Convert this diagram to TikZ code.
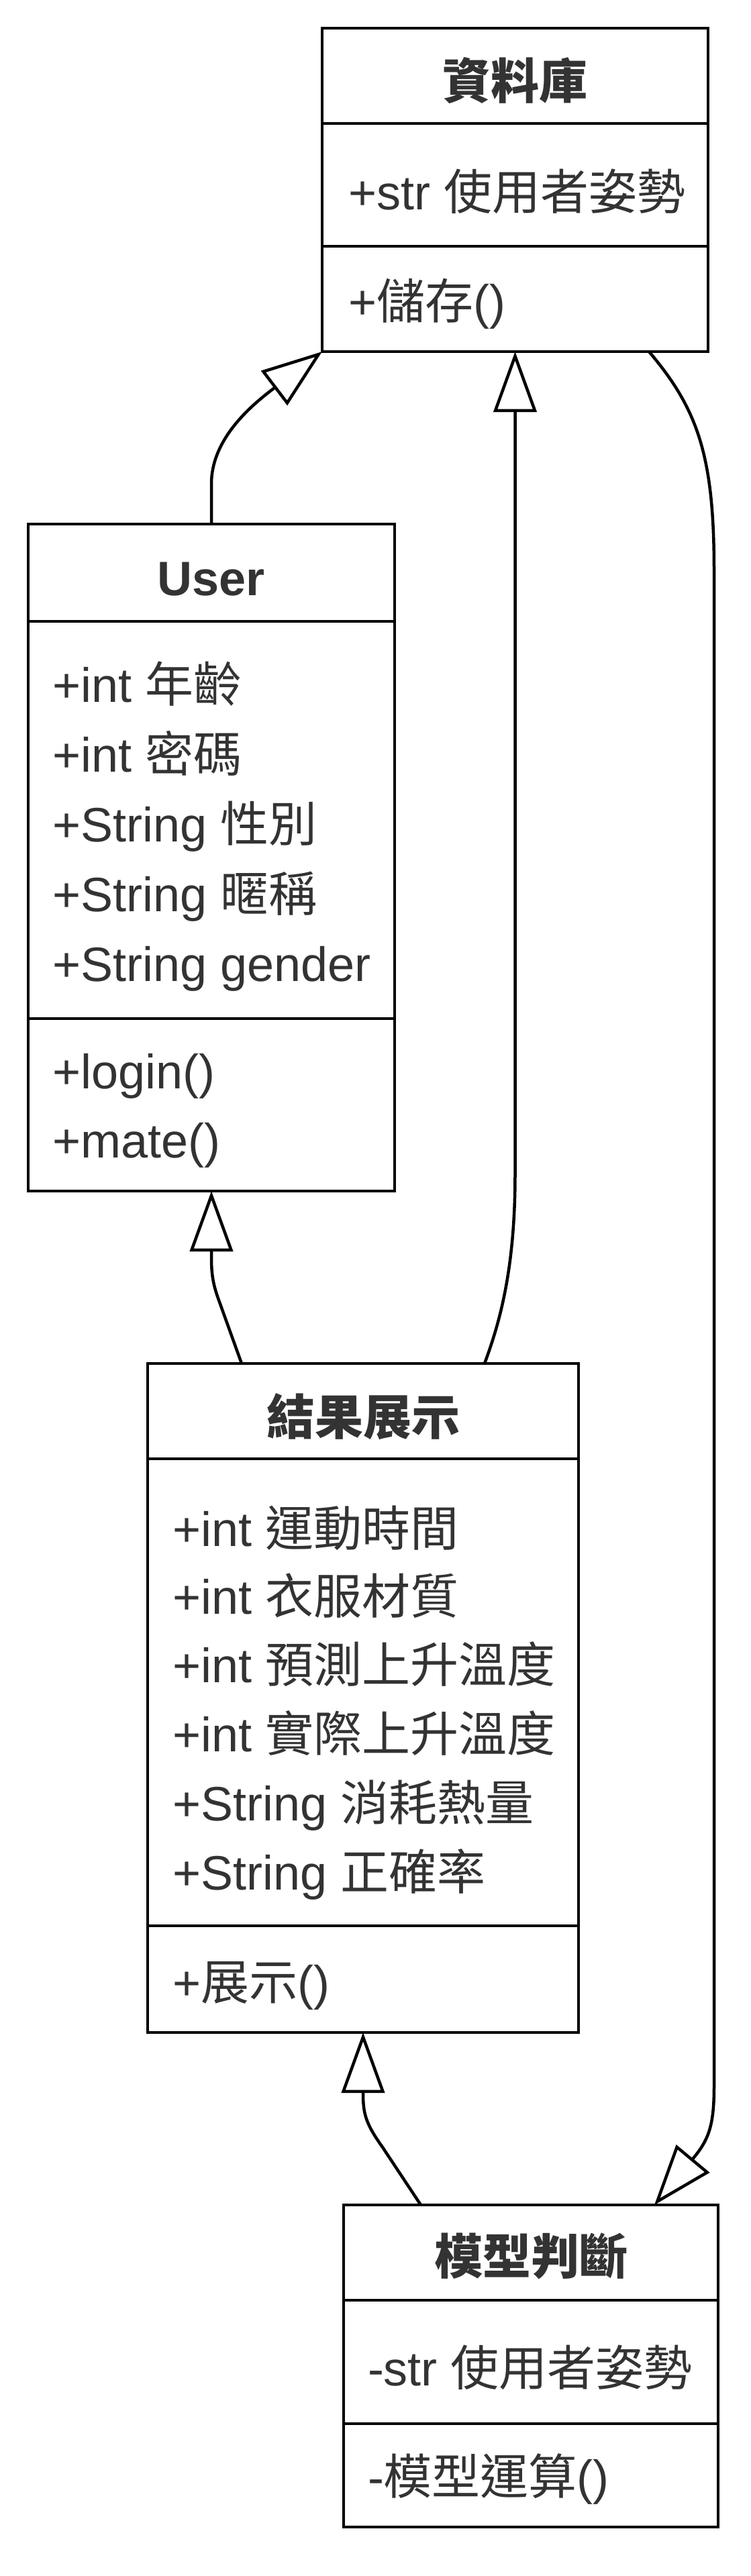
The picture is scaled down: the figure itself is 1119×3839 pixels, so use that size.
\documentclass[tikz,border=0pt]{standalone}
\usepackage{fontspec}
\setmainfont{Liberation Sans}
\newfontfamily\cjk{Noto Sans CJK TC}
\usetikzlibrary{arrows.meta,calc}
\definecolor{txt}{HTML}{333333}
\begin{document}
\begin{tikzpicture}[x=1pt,y=-1pt,
  classbox/.style={draw=black, line width=4.5pt, inner sep=0pt, outer sep=0pt, rectangle},
  sepline/.style={draw=black, line width=4.5pt},
  member/.style={anchor=base west, inner sep=0pt, outer sep=0pt, text=txt, font=\fontsize{72}{86}\selectfont},
  classtitle/.style={anchor=base, inner sep=0pt, outer sep=0pt, text=txt, font=\fontsize{72}{86}\selectfont\bfseries},
  inherit/.style={draw=black, line width=4.5pt, -{Triangle[open, length=90pt, width=64pt]}}]
\fill[white] (0,0) rectangle (1119,3839);
\useasboundingbox (0,0) rectangle (1119,3839);

% class boxes
\node[classbox, minimum width=575pt, minimum height=482pt] (db) at (767.5,283) {};
\node[classbox, minimum width=546pt, minimum height=994pt] (user) at (315,1278) {};
\node[classbox, minimum width=642pt, minimum height=997pt] (res) at (541,2530.5) {};
\node[classbox, minimum width=558pt, minimum height=480pt] (model) at (791,3526) {};

% separators
\draw[sepline] ($(db.north west)+(0,142)$) -- ($(db.north east)+(0,142)$);
\draw[sepline] ($(db.north west)+(0,325)$) -- ($(db.north east)+(0,325)$);
\draw[sepline] ($(user.north west)+(0,145)$) -- ($(user.north east)+(0,145)$);
\draw[sepline] ($(user.north west)+(0,737)$) -- ($(user.north east)+(0,737)$);
\draw[sepline] ($(res.north west)+(0,142)$) -- ($(res.north east)+(0,142)$);
\draw[sepline] ($(res.north west)+(0,838)$) -- ($(res.north east)+(0,838)$);
\draw[sepline] ($(model.north west)+(0,142)$) -- ($(model.north east)+(0,142)$);
\draw[sepline] ($(model.north west)+(0,326)$) -- ($(model.north east)+(0,326)$);

% texts: 資料庫
\node[classtitle] (dbT) at (767.5,147) {\cjk 資料庫};
\node[member] (dbA1) at (519,312) {+str {\cjk 使用者姿勢}};
\node[member] (dbM1) at (519,475) {+{\cjk 儲存}()};

% User
\node[classtitle] (userT) at (315,887) {User};
\node[member] (userA1) at (78,1046) {+int {\cjk 年齡}};
\node[member] (userA2) at (78,1150) {+int {\cjk 密碼}};
\node[member] (userA3) at (78,1254) {+String {\cjk 性別}};
\node[member] (userA4) at (78,1358) {+String {\cjk 暱稱}};
\node[member] (userA5) at (78,1462) {+String gender};
\node[member] (userM1) at (78,1622) {+login()};
\node[member] (userM2) at (78,1725) {+mate()};

% 結果展示
\node[classtitle] (resT) at (541,2138) {\cjk 結果展示};
\node[member] (resA1) at (257,2304) {+int {\cjk 運動時間}};
\node[member] (resA2) at (257,2405) {+int {\cjk 衣服材質}};
\node[member] (resA3) at (257,2507) {+int {\cjk 預測上升溫度}};
\node[member] (resA4) at (257,2610) {+int {\cjk 實際上升溫度}};
\node[member] (resA5) at (257,2713) {+String {\cjk 消耗熱量}};
\node[member] (resA6) at (257,2816) {+String {\cjk 正確率}};
\node[member] (resM1) at (257,2980) {+{\cjk 展示}()};

% 模型判斷
\node[classtitle] (modelT) at (791,3389) {\cjk 模型判斷};
\node[member] (modelA1) at (548,3555) {-str {\cjk 使用者姿勢}};
\node[member] (modelM1) at (548,3717) {-{\cjk 模型運算}()};

% connectors
\draw[inherit] (user.north) -- ++(0,-60) .. controls +(0,-70) and +(-100,76) .. (db.south west);
\draw[inherit] ($(res.north west)+(502,0)$) .. controls +(23,-62) and +(0,140) .. ($(db.south)+(0,1226)$) -- (db.south);
\draw[inherit] ($(res.north west)+(140,0)$) -- ++(-36,-100) .. controls +(-6,-18) and +(0,25) .. ($(user.south)+(0,100)$) -- (user.south);
\draw[inherit] ($(db.south west)+(487,0)$) .. controls +(73,86) and +(0,-170) .. (1064,850) -- (1064,3110) .. controls +(0,60) and +(80,-96) .. ($(model.north west)+(463,0)$);
\draw[inherit] ($(model.north west)+(115,0)$) -- ++(-57,-86) .. controls +(-25,-35) and +(0,30) .. ($(res.south)+(0,91)$) -- (res.south);
\end{tikzpicture}
\end{document}
